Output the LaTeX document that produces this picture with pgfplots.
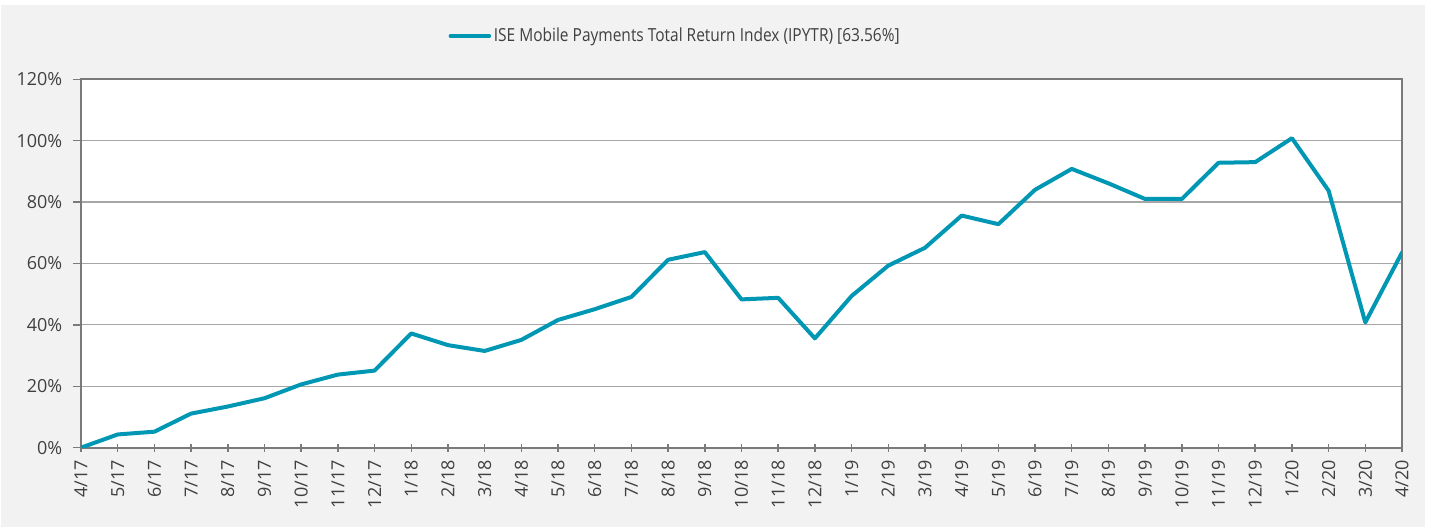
\documentclass[border=0pt]{standalone}
\usepackage{fontspec}
\setmainfont{Open Sans}
\newfontfamily\legfont[FakeStretch=0.86]{Open Sans}
\usepackage{pgfplots}
\pgfplotsset{compat=1.18}
\definecolor{bgc}{HTML}{F2F2F2}
\definecolor{linec}{HTML}{0097B5}
\definecolor{txt}{HTML}{404040}
\definecolor{gridc}{HTML}{A6A6A6}
\definecolor{axc}{HTML}{7A7A7A}
\begin{document}
\begin{tikzpicture}[x=1pt,y=1pt]
\useasboundingbox (0,0) rectangle (1074,395.25);
\fill[white] (0,0) rectangle (1074,395.25);
\fill[bgc] (0.75,0) rectangle (1068.75,391.5);
\begin{axis}[
  at={(60.75pt,59.5pt)}, anchor=south west,
  scale only axis, width=990.75pt, height=276.3pt,
  xmin=0, xmax=36, ymin=0, ymax=120,
  axis background/.style={fill=white},
  axis line style={axc, line width=1.4pt},
  xtick={0,...,36},
  xticklabels={4/17,5/17,6/17,7/17,8/17,9/17,10/17,11/17,12/17,1/18,2/18,3/18,4/18,5/18,6/18,7/18,8/18,9/18,10/18,11/18,12/18,1/19,2/19,3/19,4/19,5/19,6/19,7/19,8/19,9/19,10/19,11/19,12/19,1/20,2/20,3/20,4/20},
  ytick={0,20,...,120},
  yticklabels={0\%,20\%,40\%,60\%,80\%,100\%,120\%},
  xtick pos=bottom, ytick pos=left,
  tick align=outside, major tick length=6pt,
  tick style={axc, line width=1.1pt},
  x tick style={yshift=3pt},
  ymajorgrids, major grid style={gridc, line width=0.9pt},
  ticklabel style={font=\fontsize{13.5}{16}\selectfont, text=txt},
  x tick label style={rotate=90, anchor=east},
  y tick label style={xshift=-4.5pt},
  legend style={at={(0.45,1.1175)}, anchor=center, draw=none, fill=none,
    font=\legfont\fontsize{13.5}{16}\selectfont, text=txt},
  legend image code/.code={\draw[#1] (0pt,0pt) -- (29pt,0pt);},
]
\addplot[linec, line width=3pt, line join=round, line cap=round] coordinates {
(0,0) (1,4.3) (2,5.2) (3,11.1) (4,13.4) (5,16.1) (6,20.6) (7,23.8) (8,25.1)
(9,37.2) (10,33.4) (11,31.5) (12,35.1) (13,41.6) (14,45.1) (15,49.1) (16,61.2)
(17,63.7) (18,48.3) (19,48.8) (20,35.6) (21,49.4) (22,59.3) (23,65.1) (24,75.6)
(25,72.8) (26,84.0) (27,90.8) (28,86.1) (29,81.0) (30,81.0) (31,92.8) (32,93.0)
(33,100.8) (34,83.7) (35,40.8) (36,63.56)
};
\addlegendentry{ISE Mobile Payments Total Return Index (IPYTR) [63.56\%]}
\end{axis}
\end{tikzpicture}
\end{document}
